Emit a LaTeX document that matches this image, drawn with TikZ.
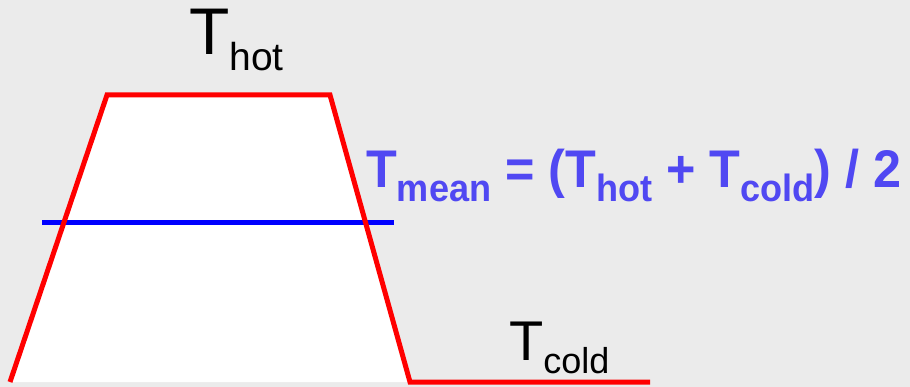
\documentclass[tikz,border=0pt]{standalone}
\usepackage{fontspec}
\setmainfont{Liberation Sans}
\usetikzlibrary{positioning}
\definecolor{cred}{HTML}{FF0000}
\definecolor{cblue}{HTML}{0000FF}
\definecolor{cviolet}{HTML}{5048F2}
\definecolor{cbg}{HTML}{EBEBEB}
\tikzset{
  every picture/.style={x=1pt, y=-1pt},
  hotline/.style={draw=cred, line width=5pt, line join=miter},
  meanline/.style={draw=cblue, line width=5pt},
  label/.style={inner sep=0pt, anchor=base west},
}
% T with a lowered subscript: #1 size of sub, #2 drop, #3 text
\newcommand{\tsub}[3]{T\raisebox{-#2pt}{\fontsize{#1}{#1}\selectfont #3}}

\begin{document}
\begin{tikzpicture}
  \fill[cbg] (0,0) rectangle (910,387);
  \useasboundingbox (0,0) rectangle (910,387);
  % the profile
  \coordinate (bl) at (10,382);
  \coordinate (tl) at (107,95);
  \coordinate (tr) at (330,95);
  \coordinate (br) at (410,382);
  \coordinate (cr) at (650,382);
  \fill[white] (bl) -- (tl) -- (tr) -- (br) -- cycle;
  % mean level
  \coordinate (ml) at (42,223);
  \coordinate (mr) at (394,223);
  \draw[meanline] (ml) -- (mr);
  \draw[hotline] (bl) -- (tl) -- (tr) -- (br) -- (cr);
  % labels
  \node[label, font=\fontsize{66}{66}\selectfont] (hot) at (189,55) {\tsub{39}{16}{hot}};
  \node[label, font=\fontsize{56}{56}\selectfont] (cold) at (509,360) {\tsub{36}{13}{cold}};
  \node[label, text=cviolet, font=\fontsize{53}{53}\selectfont\bfseries, xscale=0.95, transform shape] (mean) at (366,188)
    {\tsub{38}{14}{mean} = (\tsub{38}{14}{hot} + \tsub{38}{14}{cold}) / 2};
\end{tikzpicture}
\end{document}
